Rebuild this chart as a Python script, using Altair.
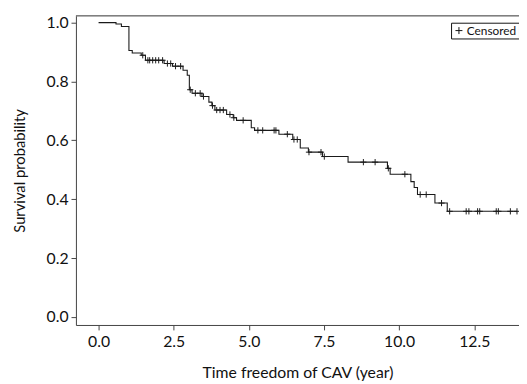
import altair as alt
import pandas as pd
import numpy as np

# Kaplan-Meier step events (time in years, survival after the step)
event_times = [0.0, 0.58, 0.76, 1.01, 1.12, 1.42, 1.56, 2.18, 2.46, 2.81, 2.95, 3.02, 3.11,
               3.44, 3.67, 3.77, 3.87, 4.26, 4.48, 4.59, 5.08, 5.19, 6.00, 6.46, 6.71,
               6.98, 7.45, 8.30, 9.61, 9.70, 10.39, 10.50, 10.61, 11.19, 11.60]
event_surv = [1.0, 0.995, 0.987, 0.905, 0.897, 0.889, 0.872, 0.861, 0.852, 0.838, 0.821, 0.772,
              0.760, 0.749, 0.730, 0.718, 0.703, 0.688, 0.677, 0.668, 0.643, 0.634, 0.621,
              0.603, 0.574, 0.560, 0.545, 0.526, 0.505, 0.485, 0.460, 0.440, 0.416, 0.387, 0.359]

# censoring times
censor_times = [1.47, 1.64, 1.70, 1.80, 1.90, 2.00, 2.13, 2.29, 2.40, 2.56, 2.73, 3.05, 3.22,
                3.38, 3.49, 3.79, 3.93, 4.04, 4.15, 4.37, 4.50, 4.81, 5.30, 5.46, 5.84, 5.90,
                6.28, 6.50, 6.61, 7.00, 7.40, 7.51, 8.81, 9.20, 9.64, 10.19, 10.70, 10.90,
                11.41, 11.68, 12.23, 12.32, 12.61, 12.68, 13.23, 13.30, 13.70, 13.92]

x_ticks = [0.0, 2.5, 5.0, 7.5, 10.0, 12.5]
y_ticks = [0.0, 0.2, 0.4, 0.6, 0.8, 1.0]

line_df = pd.DataFrame({"t": event_times + [censor_times[-1]],
                        "s": event_surv + [event_surv[-1]]})
idx = np.searchsorted(np.array(event_times), np.array(censor_times), side="right") - 1
cens_df = pd.DataFrame({"t": censor_times,
                        "s": [event_surv[i] for i in idx],
                        "lab": ["Censored"] * len(censor_times)})

FONT = "Lato"
W, H = 450, 314

xs = alt.Scale(domain=[-0.753, 13.987], nice=False, zero=False)
ys = alt.Scale(domain=[-0.027, 1.023], nice=False, zero=False)

line = alt.Chart(line_df).mark_line(interpolate="step-after", color="#1a1a1a",
                                    strokeWidth=1.1, clip=True).encode(
    x=alt.X("t:Q", scale=xs,
            axis=alt.Axis(title="Time freedom of CAV (year)", values=x_ticks, format=".1f",
                          grid=False, tickSize=5, labelPadding=4, titlePadding=15,
                          domainColor="#444", tickColor="#444", labelColor="#111",
                          titleColor="#111", labelFontSize=16, titleFontSize=16,
                          labelFont=FONT, titleFont=FONT, titleFontWeight="normal")),
    y=alt.Y("s:Q", scale=ys,
            axis=alt.Axis(title="Survival probability", values=y_ticks, format=".1f",
                          grid=False, tickSize=5, labelPadding=3, titlePadding=19,
                          domainColor="#444", tickColor="#444", labelColor="#111",
                          titleColor="#111", labelFontSize=16, titleFontSize=15,
                          labelFont=FONT, titleFont=FONT, titleFontWeight="normal")),
)

cens = alt.Chart(cens_df).mark_point(filled=False, strokeWidth=1, size=40, opacity=1,
                                      clip=True).encode(
    x=alt.X("t:Q", scale=xs),
    y=alt.Y("s:Q", scale=ys),
    shape=alt.Shape("lab:N", scale=alt.Scale(range=["M-1,0H1M0,-1V1"]),
                    legend=alt.Legend(title=None, orient="none", legendX=381, legendY=7,
                                      strokeColor="#111", padding=2, labelFont=FONT,
                                      labelFontSize=12, labelColor="#111",
                                      symbolStrokeColor="#111", symbolStrokeWidth=1,
                                      symbolSize=50, symbolFillColor="transparent",
                                      labelOffset=2, rowPadding=0)),
    color=alt.value("#1a1a1a"),
)

top = alt.Chart(pd.DataFrame({"a": [0]})).mark_rule(color="#444", strokeWidth=1).encode(
    y=alt.value(0), x=alt.value(0), x2=alt.value(W))

chart = alt.layer(top, line, cens).properties(
    width=W, height=H,
    autosize=alt.AutoSizeParams(type="none"),
    padding={"left": 69, "top": 5, "right": 0, "bottom": 57},
).configure_view(stroke=None).configure(background="white")

chart.save("out.html", embed_options={"renderer": "svg", "actions": False})
